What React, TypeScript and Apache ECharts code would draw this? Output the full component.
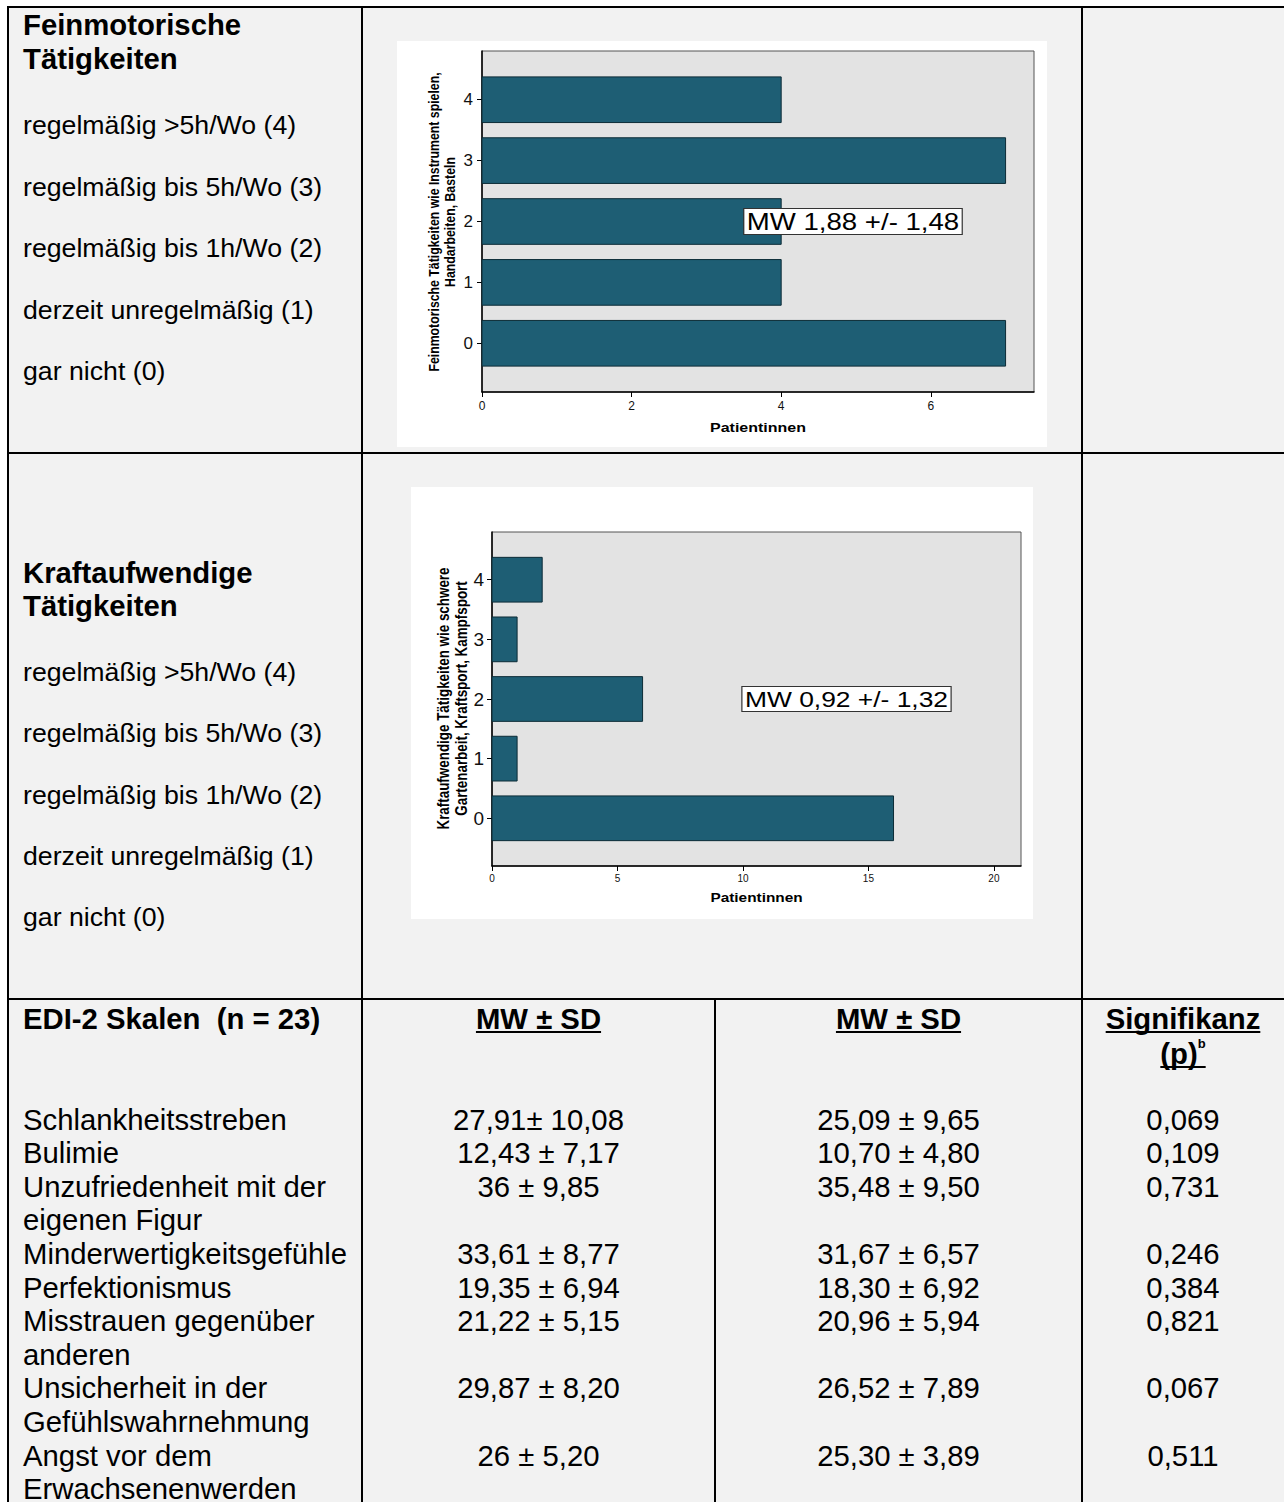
import React, { useEffect, useRef } from "react";
import * as echarts from "echarts";

// Page geometry
const PAGE_W = 1284;
const PAGE_H = 1502;
const FONT = '"Liberation Sans", Arial, Helvetica, sans-serif';

// Activity levels (y categories) and counts of patients per level
const levels = [0, 1, 2, 3, 4];
const fineMotorCounts = [7, 4, 4, 7, 4];
const strengthCounts = [16, 1, 6, 1, 2];
const fineMotorTickStep = 2;
const strengthTickStep = 5;

// Left column texts
const levelLabels = [
  "regelmäßig >5h/Wo (4)",
  "regelmäßig bis 5h/Wo (3)",
  "regelmäßig bis 1h/Wo (2)",
  "derzeit unregelmäßig (1)",
  "gar nicht (0)",
];
const fineMotorHeading = ["Feinmotorische", "Tätigkeiten"];
const strengthHeading = ["Kraftaufwendige", "Tätigkeiten"];
const fineMotorAxisTitle = "Feinmotorische Tätigkeiten wie Instrument spielen,\nHandarbeiten, Basteln";
const strengthAxisTitle = "Kraftaufwendige Tätigkeiten wie schwere\nGartenarbeit, Kraftsport, Kampfsport";

// EDI-2 table
const ediScales = [
  "Schlankheitsstreben",
  "Bulimie",
  "Unzufriedenheit mit der\neigenen Figur",
  "Minderwertigkeitsgefühle",
  "Perfektionismus",
  "Misstrauen gegenüber\nanderen",
  "Unsicherheit in der\nGefühlswahrnehmung",
  "Angst vor dem\nErwachsenenwerden",
];
const ediGroupA = ["27,91± 10,08", "12,43 ± 7,17", "36 ± 9,85", "33,61 ± 8,77", "19,35 ± 6,94", "21,22 ± 5,15", "29,87 ± 8,20", "26 ± 5,20"];
const ediGroupB = ["25,09 ± 9,65", "10,70 ± 4,80", "35,48 ± 9,50", "31,67 ± 6,57", "18,30 ± 6,92", "20,96 ± 5,94", "26,52 ± 7,89", "25,30 ± 3,89"];
const ediP = ["0,069", "0,109", "0,731", "0,246", "0,384", "0,821", "0,067", "0,511"];

const BAR_FILL = "#1e5e74";
const BAR_EDGE = "#0c2c37";

function meanSdLabel(counts: number[]) {
  const n = counts.reduce((a, b) => a + b, 0);
  const mean = counts.reduce((a, c, i) => a + c * levels[i], 0) / n;
  const ss = counts.reduce((a, c, i) => a + c * (levels[i] - mean) ** 2, 0);
  const sd = Math.sqrt(ss / (n - 1));
  const f = (v: number) => v.toFixed(2).replace(".", ",");
  return `MW ${f(mean)} +/- ${f(sd)}`;
}

function measure(text: string, font: string) {
  const ctx = document.createElement("canvas").getContext("2d");
  if (!ctx) return text.length * 14;
  ctx.font = font;
  return ctx.measureText(text).width;
}

function txt(x: number, y: number, text: string, size: number, opts: any = {}) {
  return {
    type: "text",
    x,
    y,
    z: opts.z ?? 10,
    rotation: opts.rotation ?? 0,
    scaleX: opts.scaleX ?? 1,
    scaleY: opts.scaleY ?? 1,
    style: {
      text,
      fontSize: size,
      fontFamily: FONT,
      fontWeight: opts.bold ? "bold" : "normal",
      fill: "#000",
      align: opts.align ?? "left",
      verticalAlign: "middle",
      lineHeight: opts.lineHeight,
      backgroundColor: opts.backgroundColor,
      borderColor: opts.borderColor,
      borderWidth: opts.borderWidth,
      padding: opts.padding,
    },
  };
}

function line(x1: number, y1: number, x2: number, y2: number, w = 2) {
  return { type: "line", z: 20, shape: { x1, y1, x2, y2 }, style: { stroke: "#000", lineWidth: w } };
}

function underline(cx: number, y: number, text: string, size: number) {
  const w = measure(text, `bold ${size}px ${FONT}`);
  return line(cx - w / 2, y, cx + w / 2, y, 2);
}

function barSeries(counts: number[], axisIndex: number) {
  return {
    type: "custom",
    xAxisIndex: axisIndex,
    yAxisIndex: axisIndex,
    encode: { x: 0, y: 1 },
    data: counts.map((c, i) => [c, levels[i]]),
    renderItem: (_params: any, api: any) => {
      const v = api.value(0);
      const lv = api.value(1);
      const tl = api.coord([0, lv + 0.375]);
      const br = api.coord([v, lv - 0.375]);
      return {
        type: "rect",
        shape: { x: tl[0], y: tl[1], width: br[0] - tl[0], height: br[1] - tl[1] },
        style: { fill: BAR_FILL, stroke: BAR_EDGE, lineWidth: 1 },
      };
    },
  };
}

// Patient-count axis: ticks every `step` from 0
function countAxis(gridIndex: number, max: number, step: number, fontSize: number, margin: number) {
  return {
    gridIndex,
    type: "value",
    min: 0,
    max,
    interval: step,
    axisLine: { show: true, onZero: false, lineStyle: { color: "#000", width: 1.5 } },
    axisTick: { show: true, length: 5, lineStyle: { color: "#000", width: 1 } },
    axisLabel: { fontSize, color: "#111", fontFamily: FONT, margin, showMaxLabel: false },
    splitLine: { show: false },
  };
}

// Activity level axis: integer levels 0..4 with padding on both ends
function levelAxis(gridIndex: number, fontSize: number, margin: number) {
  return {
    gridIndex,
    type: "value",
    min: -0.8,
    max: 4.8,
    axisLine: { show: true, onZero: false, lineStyle: { color: "#000", width: 1.5 } },
    axisTick: { show: true, length: 5, customValues: levels, lineStyle: { color: "#000", width: 1 } },
    axisLabel: { customValues: levels, fontSize, color: "#111", fontFamily: FONT, margin },
    splitLine: { show: false },
  };
}

export default function App() {
  const ref = useRef<HTMLDivElement>(null);

  useEffect(() => {
    document.body.style.margin = "0";
    document.body.style.overflow = "hidden";
    const chart = echarts.init(ref.current as HTMLDivElement, undefined, {
      renderer: "svg",
      width: PAGE_W,
      height: PAGE_H,
    });

    const graphic: any[] = [];

    // page margins (white) around the grey table area
    graphic.push({ type: "rect", z: -10, shape: { x: 0, y: 0, width: PAGE_W, height: 6 }, style: { fill: "#fff" } });
    graphic.push({ type: "rect", z: -10, shape: { x: 0, y: 0, width: 7, height: PAGE_H }, style: { fill: "#fff" } });

    // white chart panels
    graphic.push({ type: "rect", z: -5, shape: { x: 397, y: 41, width: 650, height: 406 }, style: { fill: "#fff" } });
    graphic.push({ type: "rect", z: -5, shape: { x: 411, y: 487, width: 622, height: 432 }, style: { fill: "#fff" } });

    // table rules
    graphic.push(line(7, 7, PAGE_W, 7));
    graphic.push(line(8, 7, 8, PAGE_H));
    graphic.push(line(362, 7, 362, PAGE_H));
    graphic.push(line(1082, 7, 1082, PAGE_H));
    graphic.push(line(8, 453, PAGE_W, 453));
    graphic.push(line(8, 999, PAGE_W, 999));
    graphic.push(line(715, 999, 715, PAGE_H));

    const HS = 29.3; // bold headings
    const IS = 26.7; // level labels
    const DS = 29.3; // table body

    // left column: fine motor activities
    fineMotorHeading.forEach((t, i) => graphic.push(txt(23, 24 + i * 34, t, HS, { bold: true })));
    levelLabels.forEach((t, i) => graphic.push(txt(23, 125 + i * 61.5, t, IS)));
    // left column: strength activities
    strengthHeading.forEach((t, i) => graphic.push(txt(23, 572 + i * 33.5, t, HS, { bold: true })));
    levelLabels.forEach((t, i) => graphic.push(txt(23, 672 + i * 61.3, t, IS)));

    // chart axis titles
    graphic.push(txt(442, 222, fineMotorAxisTitle, 12.3, { bold: true, align: "center", rotation: Math.PI / 2, scaleY: 1.2, lineHeight: 14 }));
    graphic.push(txt(453, 698.5, strengthAxisTitle, 13.4, { bold: true, align: "center", rotation: Math.PI / 2, scaleY: 1.2, lineHeight: 15 }));
    graphic.push(txt(758, 428, "Patientinnen", 13, { bold: true, align: "center", scaleX: 1.23 }));
    graphic.push(txt(756.5, 898, "Patientinnen", 12.5, { bold: true, align: "center", scaleX: 1.23 }));

    // mean +/- SD boxes
    graphic.push(
      txt(853, 221.5, meanSdLabel(fineMotorCounts), 23, {
        align: "center", scaleX: 1.2, z: 50, backgroundColor: "#fff", borderColor: "#333", borderWidth: 1, padding: [1, 2],
      })
    );
    graphic.push(
      txt(846.5, 699, meanSdLabel(strengthCounts), 22, {
        align: "center", scaleX: 1.2, z: 50, backgroundColor: "#fff", borderColor: "#333", borderWidth: 1, padding: [1, 2],
      })
    );

    // EDI-2 table header
    graphic.push(txt(23, 1018, "EDI-2 Skalen  (n = 23)", HS, { bold: true }));
    graphic.push(txt(538.5, 1018, "MW ± SD", HS, { bold: true, align: "center" }));
    graphic.push(underline(538.5, 1032, "MW ± SD", HS));
    graphic.push(txt(898.5, 1018, "MW ± SD", HS, { bold: true, align: "center" }));
    graphic.push(underline(898.5, 1032, "MW ± SD", HS));
    graphic.push(txt(1183, 1018, "Signifikanz", HS, { bold: true, align: "center" }));
    graphic.push(underline(1183, 1032, "Signifikanz", HS));
    const SUP = 13;
    const pW = measure("(p)", `bold ${HS}px ${FONT}`);
    const bW = measure("b", `bold ${SUP}px ${FONT}`);
    const pLeft = 1183 - (pW + bW) / 2;
    graphic.push(txt(pLeft, 1053, "(p)", HS, { bold: true }));
    graphic.push(txt(pLeft + pW, 1043, "b", SUP, { bold: true }));
    graphic.push(line(pLeft, 1067, pLeft + pW + bW, 1067, 2));

    // EDI-2 table rows
    const ROW0 = 1119;
    const STEP = 33.6;
    let lineIdx = 0;
    ediScales.forEach((name, r) => {
      const y = ROW0 + lineIdx * STEP;
      const parts = name.split("\n");
      parts.forEach((part, k) => graphic.push(txt(23, ROW0 + (lineIdx + k) * STEP, part, DS)));
      graphic.push(txt(538.5, y, ediGroupA[r], DS, { align: "center" }));
      graphic.push(txt(898.5, y, ediGroupB[r], DS, { align: "center" }));
      graphic.push(txt(1183, y, ediP[r], DS, { align: "center" }));
      lineIdx += parts.length;
    });

    chart.setOption({
      animation: false,
      backgroundColor: "#f2f2f2",
      grid: [
        { left: 482, top: 51, width: 552, height: 341, show: true, backgroundColor: "#e3e3e3", borderColor: "#555", borderWidth: 1 },
        { left: 492, top: 532, width: 529, height: 334, show: true, backgroundColor: "#e3e3e3", borderColor: "#555", borderWidth: 1 },
      ],
      xAxis: [
        countAxis(0, 7.38, fineMotorTickStep, 12, 8),
        countAxis(1, 21.08, strengthTickStep, 10, 7),
      ],
      yAxis: [levelAxis(0, 17, 9), levelAxis(1, 19, 8)],
      series: [barSeries(fineMotorCounts, 0), barSeries(strengthCounts, 1)],
      graphic,
    });

    return () => chart.dispose();
  }, []);

  return (
    <div
      ref={ref}
      style={{ position: "absolute", left: 0, top: 0, width: PAGE_W, height: PAGE_H }}
    />
  );
}
